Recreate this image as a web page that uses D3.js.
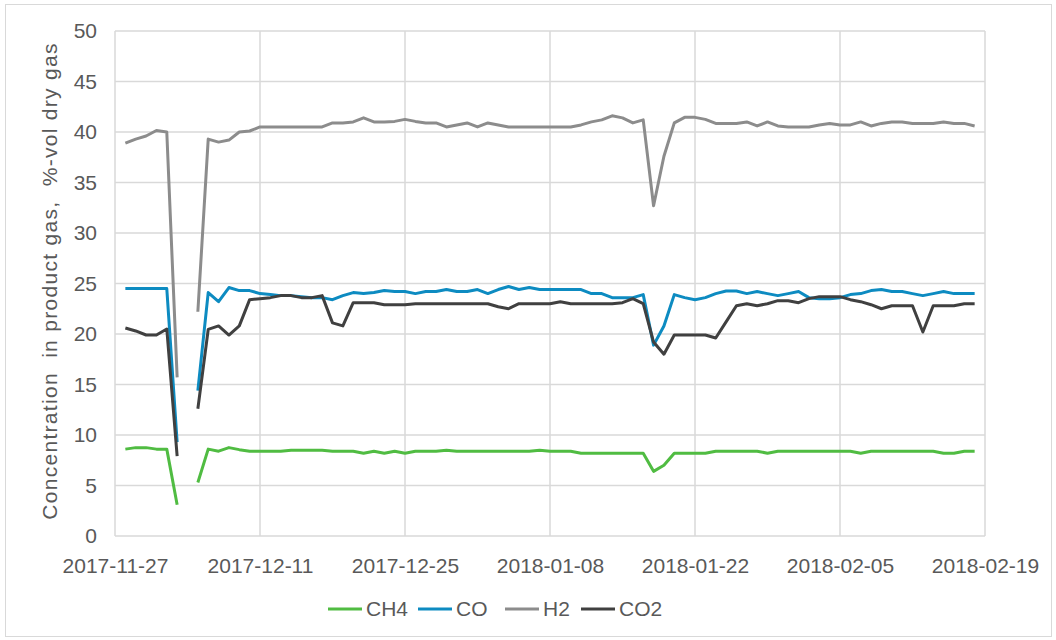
<!DOCTYPE html>
<html>
<head>
<meta charset="utf-8">
<script src="https://cdnjs.cloudflare.com/ajax/libs/d3/7.8.5/d3.min.js"></script>
<style>
  body { margin: 0; background: #fff; }
  text { font-family: "Liberation Sans", Arial, sans-serif; fill: #595959; }
</style>
</head>
<body>
<div id="viz"></div>
<script>
// daily readings, first one on 2017-11-28; null = no measurement that day
var START_DATE = "2017-11-28";
var CH4 = [8.6, 8.75, 8.75, 8.6, 8.6, 3.1, null, 5.3, 8.6, 8.4, 8.75, 8.55, 8.4, 8.4, 8.4, 8.4, 8.5, 8.5, 8.5, 8.5,
  8.4, 8.4, 8.4, 8.2, 8.4, 8.2, 8.4, 8.2, 8.4, 8.4, 8.4, 8.5, 8.4, 8.4, 8.4, 8.4, 8.4, 8.4, 8.4, 8.4,
  8.5, 8.4, 8.4, 8.4, 8.2, 8.2, 8.2, 8.2, 8.2, 8.2, 8.2, 6.4, 7.0, 8.2, 8.2, 8.2, 8.2, 8.4, 8.4, 8.4,
  8.4, 8.4, 8.2, 8.4, 8.4, 8.4, 8.4, 8.4, 8.4, 8.4, 8.4, 8.2, 8.4, 8.4, 8.4, 8.4, 8.4, 8.4, 8.4, 8.2,
  8.2, 8.4, 8.4];
var CO = [24.5, 24.5, 24.5, 24.5, 24.5, 9.3, null, 14.4, 24.1, 23.2, 24.6, 24.3, 24.3, 24.0, 23.9, 23.8, 23.8, 23.7, 23.6, 23.6,
  23.4, 23.8, 24.1, 24.0, 24.1, 24.3, 24.2, 24.2, 24.0, 24.2, 24.2, 24.4, 24.2, 24.2, 24.4, 24.0, 24.4, 24.7, 24.4, 24.6,
  24.4, 24.4, 24.4, 24.4, 24.4, 24.0, 24.0, 23.6, 23.6, 23.6, 23.9, 18.9, 20.8, 23.9, 23.6, 23.4, 23.6, 24.0, 24.25, 24.25,
  24.0, 24.2, 24.0, 23.8, 24.0, 24.2, 23.6, 23.5, 23.5, 23.6, 23.9, 24.0, 24.3, 24.4, 24.2, 24.2, 24.0, 23.8, 24.0, 24.2,
  24.0, 24.0, 24.0];
var H2 = [38.9, 39.3, 39.6, 40.15, 40.0, 15.7, null, 22.2, 39.3, 39.0, 39.2, 40.0, 40.1, 40.5, 40.5, 40.5, 40.5, 40.5, 40.5, 40.5,
  40.9, 40.9, 41.0, 41.4, 41.0, 41.0, 41.05, 41.25, 41.05, 40.9, 40.9, 40.5, 40.7, 40.9, 40.5, 40.9, 40.7, 40.5, 40.5, 40.5,
  40.5, 40.5, 40.5, 40.5, 40.7, 41.0, 41.2, 41.6, 41.4, 40.9, 41.2, 32.7, 37.6, 40.9, 41.45, 41.45, 41.25, 40.85, 40.85, 40.85,
  41.0, 40.6, 41.0, 40.6, 40.5, 40.5, 40.5, 40.7, 40.85, 40.7, 40.7, 41.0, 40.6, 40.85, 41.0, 41.0, 40.85, 40.85, 40.85, 41.0,
  40.85, 40.85, 40.6];
var CO2 = [20.6, 20.3, 19.9, 19.9, 20.5, 7.9, null, 12.6, 20.45, 20.8, 19.9, 20.8, 23.4, 23.5, 23.6, 23.8, 23.8, 23.6, 23.6, 23.8,
  21.1, 20.8, 23.1, 23.1, 23.1, 22.9, 22.9, 22.9, 23.0, 23.0, 23.0, 23.0, 23.0, 23.0, 23.0, 23.0, 22.7, 22.5, 23.0, 23.0,
  23.0, 23.0, 23.2, 23.0, 23.0, 23.0, 23.0, 23.0, 23.1, 23.5, 23.0, 19.2, 18.0, 19.9, 19.9, 19.9, 19.9, 19.6, 21.2, 22.8,
  23.0, 22.8, 23.0, 23.3, 23.3, 23.1, 23.5, 23.7, 23.7, 23.7, 23.4, 23.2, 22.9, 22.5, 22.8, 22.8, 22.8, 20.2, 22.8, 22.8,
  22.8, 23.0, 23.0];

var SERIES_NAMES = ["CH4", "CO", "H2", "CO2"];
var SERIES_COLORS = ["#50bc42", "#0d8bc1", "#8c8c8c", "#404040"];
var X_TICKS = ["2017-11-27", "2017-12-11", "2017-12-25", "2018-01-08", "2018-01-22", "2018-02-05", "2018-02-19"];
var Y_TICKS = [0, 5, 10, 15, 20, 25, 30, 35, 40, 45, 50];
var Y_TITLE = "Concentration  in product gas,  %-vol dry gas";

var SVG_WIDTH = 1056, SVG_HEIGHT = 640;
var FONT = "21px";
var parse = d3.timeParse("%Y-%m-%d");
var fmt = d3.timeFormat("%Y-%m-%d");

var svg = d3.select("#viz").append("svg")
    .attr("width", SVG_WIDTH)
    .attr("height", SVG_HEIGHT);

// outer chart frame
svg.append("rect")
    .attr("x", 5.5).attr("y", 4.5)
    .attr("width", 1046).attr("height", 632)
    .attr("fill", "none").attr("stroke", "#d9d9d9");

var x = d3.scaleTime()
    .domain([parse(X_TICKS[0]), parse(X_TICKS[X_TICKS.length - 1])])
    .range([115, 985]);
var y = d3.scaleLinear().domain([0, 50]).range([536, 31]);

// grid
svg.append("g").selectAll("line.h")
    .data(Y_TICKS).enter().append("line")
    .attr("x1", 115).attr("x2", 985)
    .attr("y1", function(d){ return y(d); })
    .attr("y2", function(d){ return y(d); })
    .attr("stroke", "#d9d9d9").attr("stroke-width", 1.5);

svg.append("g").selectAll("line.v")
    .data(X_TICKS).enter().append("line")
    .attr("y1", 31).attr("y2", 536)
    .attr("x1", function(d){ return x(parse(d)); })
    .attr("x2", function(d){ return x(parse(d)); })
    .attr("stroke", "#d9d9d9").attr("stroke-width", 1.5);

// axes labels
var yAxis = svg.append("g")
    .attr("transform", "translate(115,0)")
    .call(d3.axisLeft(y).tickValues(Y_TICKS).tickSize(0).tickPadding(18));
yAxis.select(".domain").remove();
yAxis.selectAll("text").style("font-size", FONT).attr("fill", "#595959")
    .attr("font-family", "Liberation Sans, Arial, sans-serif");

var xAxis = svg.append("g")
    .attr("transform", "translate(0,536)")
    .call(d3.axisBottom(x).tickValues(X_TICKS.map(parse)).tickFormat(fmt).tickSize(0).tickPadding(22));
xAxis.select(".domain").remove();
xAxis.selectAll("text").style("font-size", FONT).attr("fill", "#595959")
    .attr("font-family", "Liberation Sans, Arial, sans-serif");

svg.append("text")
    .attr("transform", "translate(57,281) rotate(-90)")
    .attr("text-anchor", "middle")
    .style("font-size", FONT)
    .style("white-space", "pre")
    .style("letter-spacing", "1.3px")
    .text(Y_TITLE);

// lines
var start = parse(START_DATE);
var series = [CH4, CO, H2, CO2];
var line = d3.line()
    .defined(function(d){ return d != null; })
    .x(function(d, i){ return x(d3.timeDay.offset(start, i)); })
    .y(function(d){ return y(d); });

series.forEach(function(vals, k){
    svg.append("path")
        .datum(vals)
        .attr("d", line)
        .attr("fill", "none")
        .attr("stroke", SERIES_COLORS[k])
        .attr("stroke-width", 3)
        .attr("stroke-linejoin", "round");
});

// legend
var legendX = [328, 418, 505, 581];
var lg = svg.append("g").selectAll("g")
    .data(SERIES_NAMES).enter().append("g")
    .attr("transform", function(d, i){ return "translate(" + legendX[i] + ",609)"; });
lg.append("line")
    .attr("x1", 0).attr("x2", 34)
    .attr("stroke", function(d, i){ return SERIES_COLORS[i]; })
    .attr("stroke-width", 3);
lg.append("text")
    .attr("x", 38).attr("dy", "0.35em")
    .style("font-size", FONT)
    .text(function(d){ return d; });
</script>
</body>
</html>
